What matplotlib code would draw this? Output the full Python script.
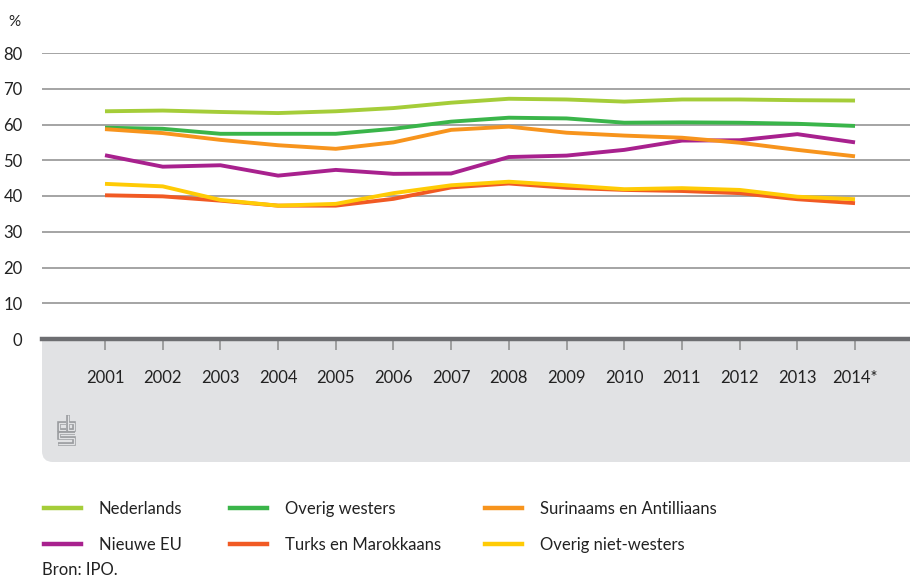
import matplotlib
matplotlib.use("Agg")
import matplotlib.pyplot as plt
from matplotlib.patches import FancyBboxPatch
from matplotlib.lines import Line2D

plt.rcParams['font.family'] = ['Lato', 'DejaVu Sans']

years = [2001, 2002, 2003, 2004, 2005, 2006, 2007, 2008, 2009, 2010, 2011, 2012, 2013, 2014]
year_labels = ['2001', '2002', '2003', '2004', '2005', '2006', '2007', '2008', '2009', '2010',
               '2011', '2012', '2013', '2014*']

nederlands = [63.7, 63.9, 63.5, 63.2, 63.7, 64.6, 66.1, 67.2, 67.0, 66.4, 67.0, 67.0, 66.8, 66.7]
overig_westers = [59.1, 58.8, 57.4, 57.4, 57.4, 58.8, 60.8, 61.9, 61.7, 60.5, 60.6, 60.5, 60.2, 59.6]
nieuwe_eu = [51.4, 48.2, 48.6, 45.7, 47.3, 46.2, 46.3, 50.9, 51.3, 52.9, 55.5, 55.6, 57.3, 55.0]
surinaams = [58.7, 57.6, 55.7, 54.2, 53.2, 55.0, 58.5, 59.4, 57.7, 56.9, 56.3, 54.9, 52.9, 51.1]
turks = [40.2, 39.9, 38.7, 37.3, 37.3, 39.2, 42.4, 43.5, 42.3, 41.7, 41.4, 40.8, 39.1, 38.0]
overig_nw = [43.4, 42.7, 38.9, 37.3, 37.8, 40.8, 43.0, 44.0, 43.0, 41.9, 42.2, 41.7, 39.8, 39.1]

series = [
    ('Nederlands', nederlands, '#a5cd39'),
    ('Overig westers', overig_westers, '#3ab54a'),
    ('Surinaams en Antilliaans', surinaams, '#f7941d'),
    ('Nieuwe EU', nieuwe_eu, '#a8218e'),
    ('Turks en Marokkaans', turks, '#f15a24'),
    ('Overig niet-westers', overig_nw, '#ffcb05'),
]
draw_order = [0, 1, 3, 2, 4, 5]

W, H = 910, 578
fig = plt.figure(figsize=(W / 100, H / 100), dpi=100)

def fx(px):
    return px / W

def fy(py):
    return 1 - py / H

ax = fig.add_axes([fx(42), fy(339), fx(910 - 42), (339 - 53) / H])
ax.set_facecolor('white')
ax.set_zorder(1)

# grey band below the plot
band_col = '#e1e2e4'
band = FancyBboxPatch((fx(42), fy(462)), fx(1000), (462 - 250) / H,
                      boxstyle="round,pad=0,rounding_size=0.012",
                      transform=fig.transFigure, facecolor=band_col,
                      edgecolor='none', zorder=0, mutation_aspect=W / H)
fig.patches.append(band)

for yv in range(10, 90, 10):
    ax.axhline(yv, color='#8c8c8c', lw=1.1, zorder=1)
ax.axhline(0, color='#6d6e71', lw=3.2, zorder=3, clip_on=False)

for i in draw_order:
    name, vals, col = series[i]
    ax.plot(years, vals, color=col, lw=2.8, solid_capstyle='butt', zorder=4)

ax.set_xlim(1999.908, 2014.953)
ax.set_ylim(0, 80)
for s in ax.spines.values():
    s.set_visible(False)
ax.set_xticks(years)
ax.set_xticklabels(year_labels)
ax.set_yticks(range(0, 90, 10))
ax.tick_params(axis='x', direction='out', length=8, width=1.1, color='#8c8c8c',
               pad=14, labelsize=12, labelcolor='#222222')
ax.tick_params(axis='y', length=0, pad=14, labelsize=12, labelcolor='#222222')

fig.text(fx(8), fy(22), '%', fontsize=11, color='#222222', va='center', ha='left')

# legend, three columns
cols = [(0, 3), (1, 4), (2, 5)]
col_x = [44, 230, 485]
for (a, b), x in zip(cols, col_x):
    handles = [Line2D([], [], color=series[k][2], lw=3.2) for k in (a, b)]
    labels = [series[k][0] for k in (a, b)]
    fig.legend(handles, labels, loc='upper left', bbox_to_anchor=(fx(x), fy(501)),
               frameon=False, fontsize=12, handlelength=2.2, handletextpad=1.1,
               labelspacing=1.2, borderpad=0, borderaxespad=0,
               labelcolor='#222222')

fig.text(fx(42), fy(570), 'Bron: IPO.', fontsize=12, color='#222222', va='center', ha='left')

# small logo (outlined strokes)
lax = fig.add_axes([fx(56), fy(447), fx(20), (447 - 413) / H])
lax.set_zorder(3)
lax.set_xlim(-1.5, 18.5)
lax.set_ylim(32.5, -1.5)
lax.axis('off')
lc = '#9a9c9f'
strokes = [
    [(8, 8.5), (1, 8.5), (1, 15), (8, 15)],
    [(10.5, 0), (10.5, 15), (16, 15), (16, 8.5), (10.5, 8.5)],
    [(17, 18), (1, 18), (1, 23.5), (16, 23.5), (16, 29), (0, 29)],
]
for p in strokes:
    xs = [q[0] for q in p]
    ys = [q[1] for q in p]
    lax.plot(xs, ys, color=lc, lw=2.6, solid_joinstyle='miter', solid_capstyle='butt')
    lax.plot(xs, ys, color=band_col, lw=0.9, solid_joinstyle='miter', solid_capstyle='butt')

fig.savefig('out.png', dpi=100)
